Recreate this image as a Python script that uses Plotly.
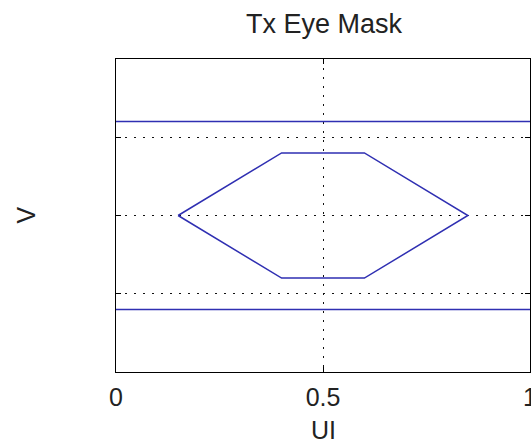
import plotly.graph_objects as go

# Tx eye mask geometry (UI on x, volts on y)
mask_ui = [0.15, 0.4, 0.6, 0.85, 0.6, 0.4, 0.15]
mask_v = [0.0, 0.4, 0.4, 0.0, -0.4, -0.4, 0.0]

# Upper / lower limit lines across the full unit interval
limit_ui = [0.0, 1.0]
upper_v = [0.6, 0.6]
lower_v = [-0.6, -0.6]

x_ticks = [0, 0.5, 1]
x_tick_text = ["0", "0.5", "1"]
y_ticks = [-0.5, 0, 0.5]

BLUE = "#2f2fb2"
FONT = "Liberation Sans, Arial, Helvetica, sans-serif"

fig = go.Figure()
for xs, ys in [(limit_ui, upper_v), (limit_ui, lower_v), (mask_ui, mask_v)]:
    fig.add_trace(go.Scatter(x=xs, y=ys, mode="lines",
                             line=dict(color=BLUE, width=1.5),
                             showlegend=False, hoverinfo="skip"))

W, H = 531, 443
L, R, T, B = 116, 1, 59, 71

axis_common = dict(
    showline=True, linecolor="black", linewidth=1.2, mirror="ticks",
    ticks="inside", ticklen=5, tickcolor="black", tickwidth=1,
    showgrid=True, gridcolor="#111111", gridwidth=1, griddash="2px,7px",
    zeroline=False,
)

fig.update_layout(
    width=W, height=H,
    margin=dict(l=L, r=R, t=T, b=B, autoexpand=False),
    paper_bgcolor="white", plot_bgcolor="white",
    font=dict(family=FONT, size=25, color="#222222"),
    title=dict(text="Tx Eye Mask", x=324 / W,
               xanchor="center", y=1 - 24 / H, yanchor="middle",
               font=dict(size=27, color="#222222")),
    xaxis=dict(range=[0, 1], tickvals=x_ticks, ticktext=x_tick_text,
               ticklabelstandoff=3, ticklabeloverflow="allow",
               **axis_common),
    yaxis=dict(range=[-1, 1], tickvals=y_ticks, showticklabels=False,
               **axis_common),
    annotations=[
        dict(text="UI", xref="paper", yref="paper", x=0.5, y=0,
             xanchor="center", yanchor="top", yshift=-42, showarrow=False,
             font=dict(size=25, color="#222222")),
        dict(text="V", xref="paper", yref="paper",
             x=(25 - L) / (W - L - R), y=0.5, xanchor="center",
             yanchor="middle", textangle=-90, showarrow=False,
             font=dict(size=25, color="#222222")),
    ],
)

fig.write_html("out.html")
